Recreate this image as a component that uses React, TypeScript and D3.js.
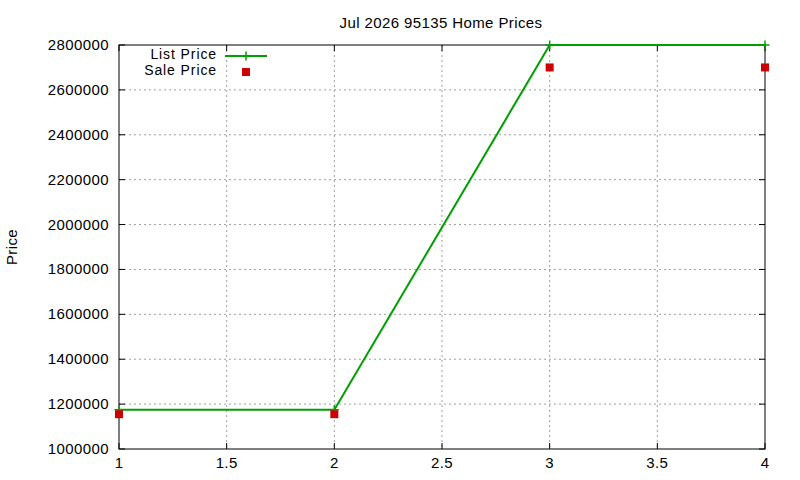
import React from "react";
import * as d3 from "d3";

const xValues = [1, 2, 3, 4];
const listPrice = [1175000, 1175000, 2800000, 2800000];
const salePrice = [1155000, 1155000, 2700000, 2700000];
const xTicks = [1, 1.5, 2, 2.5, 3, 3.5, 4];
const yTicks = [1000000, 1200000, 1400000, 1600000, 1800000, 2000000, 2200000, 2400000, 2600000, 2800000];
const title = "Jul 2026 95135 Home Prices";
const yLabel = "Price";
const seriesNames = ["List Price", "Sale Price"];

const W = 800, H = 480;
const left = 119, right = 765, top = 45, bottom = 449;
const green = "#00a000";
const red = "#cc0000";
const font = "'Liberation Sans', Arial, sans-serif";
const fs = 15;
const ls = 0.4;

export default function App() {
  const x = d3.scaleLinear().domain([1, 4]).range([left, right]);
  const y = d3.scaleLinear().domain([1000000, 2800000]).range([bottom, top]);
  const line = d3.line<number>().x((_, i) => x(xValues[i])).y((d) => y(d));
  const tl = 6;
  const plus = (cx: number, cy: number, k: string) => (
    <g key={k} stroke={green} strokeWidth={1.5}>
      <line x1={cx - 4.5} x2={cx + 4.5} y1={cy} y2={cy} />
      <line x1={cx} x2={cx} y1={cy - 4.5} y2={cy + 4.5} />
    </g>
  );
  return (
    <svg width={W} height={H} style={{ position: "absolute", left: 0, top: 0, background: "#fff" }} fontFamily={font}>
      <rect width={W} height={H} fill="#fff" />
      {/* grid */}
      <g stroke="#a0a0a0" strokeWidth={1} strokeDasharray="2,3">
        {xTicks.slice(1, -1).map((t) => (
          <line key={"gx" + t} x1={x(t)} x2={x(t)} y1={top} y2={bottom} />
        ))}
        {yTicks.slice(1, -1).map((t) => (
          <line key={"gy" + t} x1={left} x2={right} y1={y(t)} y2={y(t)} />
        ))}
      </g>
      {/* ticks */}
      <g stroke="#000" strokeWidth={1}>
        {xTicks.map((t) => (
          <g key={"tx" + t}>
            <line x1={x(t)} x2={x(t)} y1={bottom} y2={bottom - tl} />
            <line x1={x(t)} x2={x(t)} y1={top} y2={top + tl} />
          </g>
        ))}
        {yTicks.map((t) => (
          <g key={"ty" + t}>
            <line x1={left} x2={left + tl} y1={y(t)} y2={y(t)} />
            <line x1={right} x2={right - tl} y1={y(t)} y2={y(t)} />
          </g>
        ))}
      </g>
      <rect x={left} y={top} width={right - left} height={bottom - top} fill="none" stroke="#000" strokeWidth={1} />
      {/* tick labels */}
      <g fontSize={fs} fill="#000" letterSpacing={ls}>
        {yTicks.map((t) => (
          <text key={"ly" + t} x={109} y={y(t) + 5} textAnchor="end">{t}</text>
        ))}
        {xTicks.map((t) => (
          <text key={"lx" + t} x={x(t)} y={468} textAnchor="middle">{t}</text>
        ))}
      </g>
      <text x={441} y={28} textAnchor="middle" fontSize={fs} letterSpacing={ls}>{title}</text>
      <text transform="translate(17,247) rotate(-90)" textAnchor="middle" fontSize={fs} letterSpacing={ls}>{yLabel}</text>
      {/* list price */}
      <path d={line(listPrice) || ""} fill="none" stroke={green} strokeWidth={2} />
      {listPrice.map((v, i) => plus(x(xValues[i]), y(v), "p" + i))}
      {/* sale price */}
      {salePrice.map((v, i) => (
        <rect key={"s" + i} x={x(xValues[i]) - 4} y={y(v) - 4} width={8} height={8} fill={red} />
      ))}
      {/* legend */}
      <g fontSize={14} letterSpacing={0.9}>
        <text x={217} y={59} textAnchor="end">{seriesNames[0]}</text>
        <line x1={225} x2={267} y1={56} y2={56} stroke={green} strokeWidth={2} />
        {plus(246, 56, "lp")}
        <text x={217} y={75} textAnchor="end">{seriesNames[1]}</text>
        <rect x={242} y={68} width={8} height={8} fill={red} />
      </g>
    </svg>
  );
}
